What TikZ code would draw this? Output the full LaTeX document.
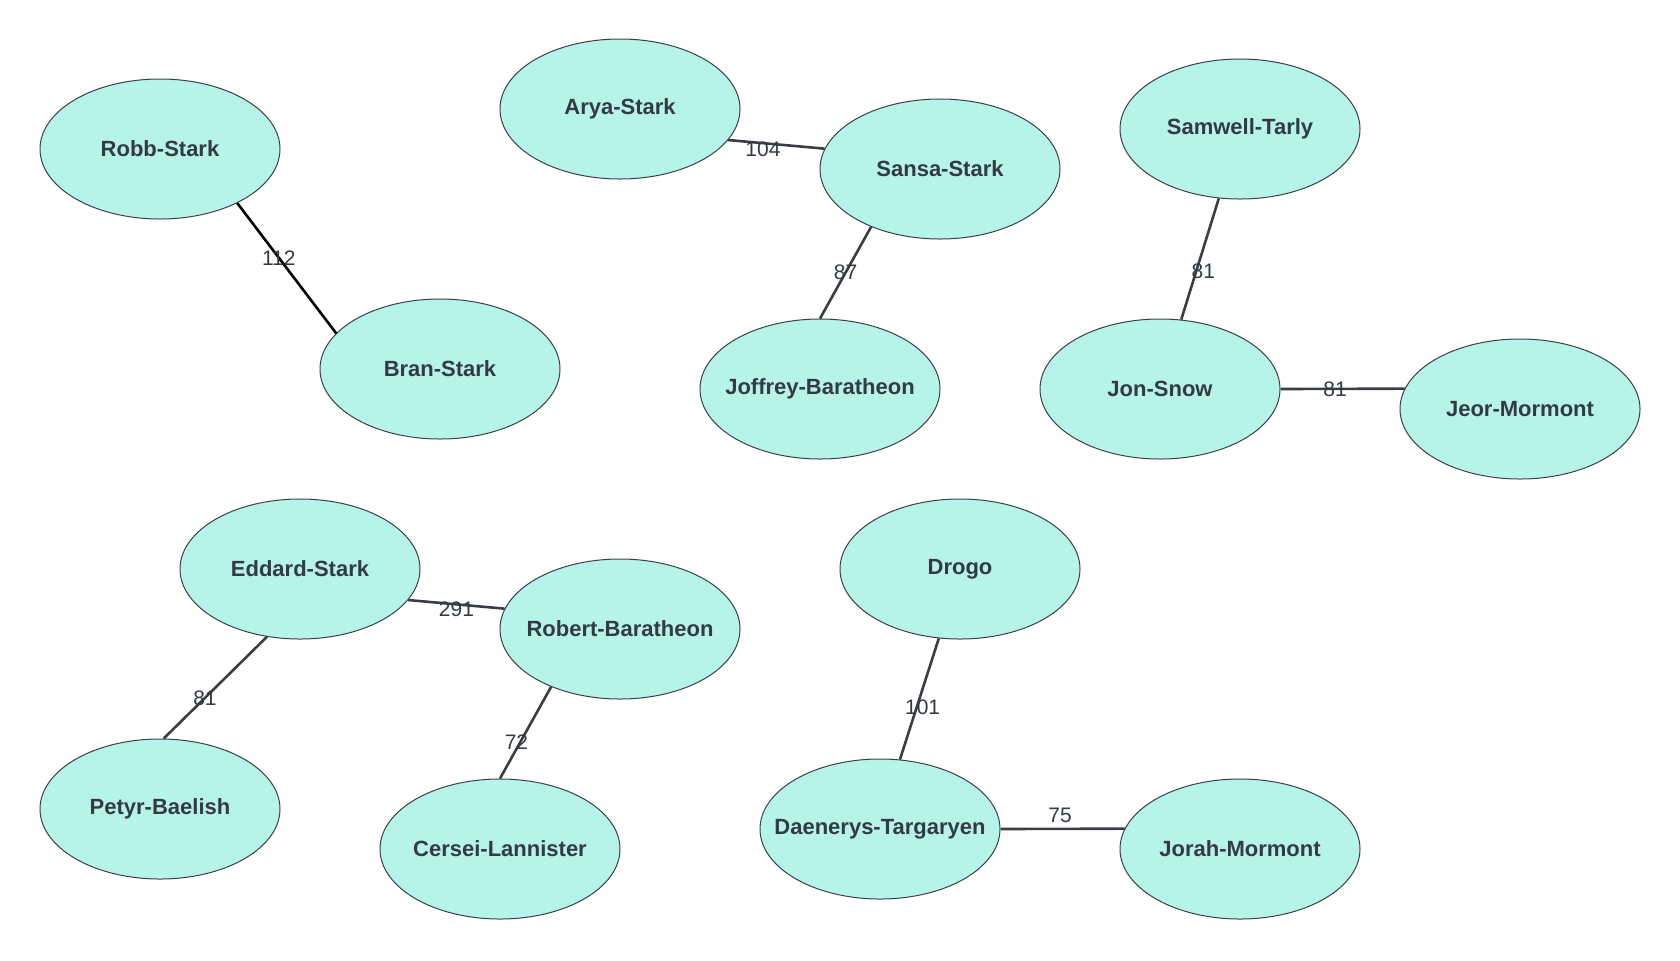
\documentclass[tikz,border=0pt]{standalone}
\usepackage{fontspec}
\setmainfont{Liberation Sans}
\usetikzlibrary{shapes.geometric}
\definecolor{nodefill}{HTML}{B6F4EA}
\definecolor{nodeline}{HTML}{3A3F47}
\definecolor{txt}{HTML}{333A44}
\definecolor{edgecol}{HTML}{3A3D45}
\tikzset{
  person/.style={ellipse, draw=nodeline, line width=0.5pt, fill=nodefill,
    minimum width=120pt, minimum height=70pt, inner sep=0pt,
    font=\fontsize{11}{13}\selectfont\bfseries, text=txt},
  link/.style={draw=edgecol, line width=1.3pt},
  lbl/.style={font=\fontsize{10.5}{12}\selectfont, text=txt, inner sep=0pt}
}
\newcommand{\nm}[1]{\makebox[0pt]{#1}}
\begin{document}
\begin{tikzpicture}[x=0.5pt, y=-0.5pt]
\useasboundingbox (0,0) rectangle (1680,960);
% nodes
\node[person] (robb)    at (160,149)  {\nm{Robb-Stark}};
\node[person] (bran)    at (440,369)  {\nm{Bran-Stark}};
\node[person] (arya)    at (620,109)  {\nm{Arya-Stark}};
\node[person] (sansa)   at (940,169)  {\nm{Sansa-Stark}};
\node[person] (joffrey) at (820,389)  {\nm{Joffrey-Baratheon}};
\node[person] (samwell) at (1240,129) {\nm{Samwell-Tarly}};
\node[person] (jon)     at (1160,389) {\nm{Jon-Snow}};
\node[person] (jeor)    at (1520,409) {\nm{Jeor-Mormont}};
\node[person] (eddard)  at (300,569)  {\nm{Eddard-Stark}};
\node[person] (robert)  at (620,629)  {\nm{Robert-Baratheon}};
\node[person] (petyr)   at (160,809)  {\nm{Petyr-Baelish}};
\node[person] (cersei)  at (500,849)  {\nm{Cersei-Lannister}};
\node[person] (drogo)   at (960,569)  {\nm{Drogo}};
\node[person] (daenerys) at (880,829) {\nm{Daenerys-Targaryen}};
\node[person] (jorah)   at (1240,849) {\nm{Jorah-Mormont}};
% edges
\draw[link, draw=black] (robb.-35) -- node[lbl, pos=0.42] {112} (bran.161.6);
\draw[link] (arya.-16) -- node[lbl, pos=0.36, yshift=-3pt] {104} (sansa.170.5);
\draw[link] (sansa.220.5) -- node[lbl, pos=0.5] {87} (joffrey.90);
\draw[link] (samwell.-107) -- node[lbl, pos=0.6, xshift=3.5pt] {81} (jon.73.5);
\draw[link] (jon.0) -- node[lbl, pos=0.44] {81} (jeor.170.7);
\draw[link] (eddard.-16) -- node[lbl, pos=0.5, yshift=-2.5pt] {291} (robert.170.5);
\draw[link] (eddard.244.5) -- node[lbl, pos=0.6] {81} (petyr.87);
\draw[link] (robert.220.5) -- node[lbl, pos=0.6, xshift=-2pt] {72} (cersei.90);
\draw[link] (drogo.-107) -- node[lbl, pos=0.57, xshift=3pt] {101} (daenerys.74);
\draw[link] (daenerys.0) -- node[lbl, pos=0.48, yshift=6.5pt] {75} (jorah.170.5);
\end{tikzpicture}
\end{document}
